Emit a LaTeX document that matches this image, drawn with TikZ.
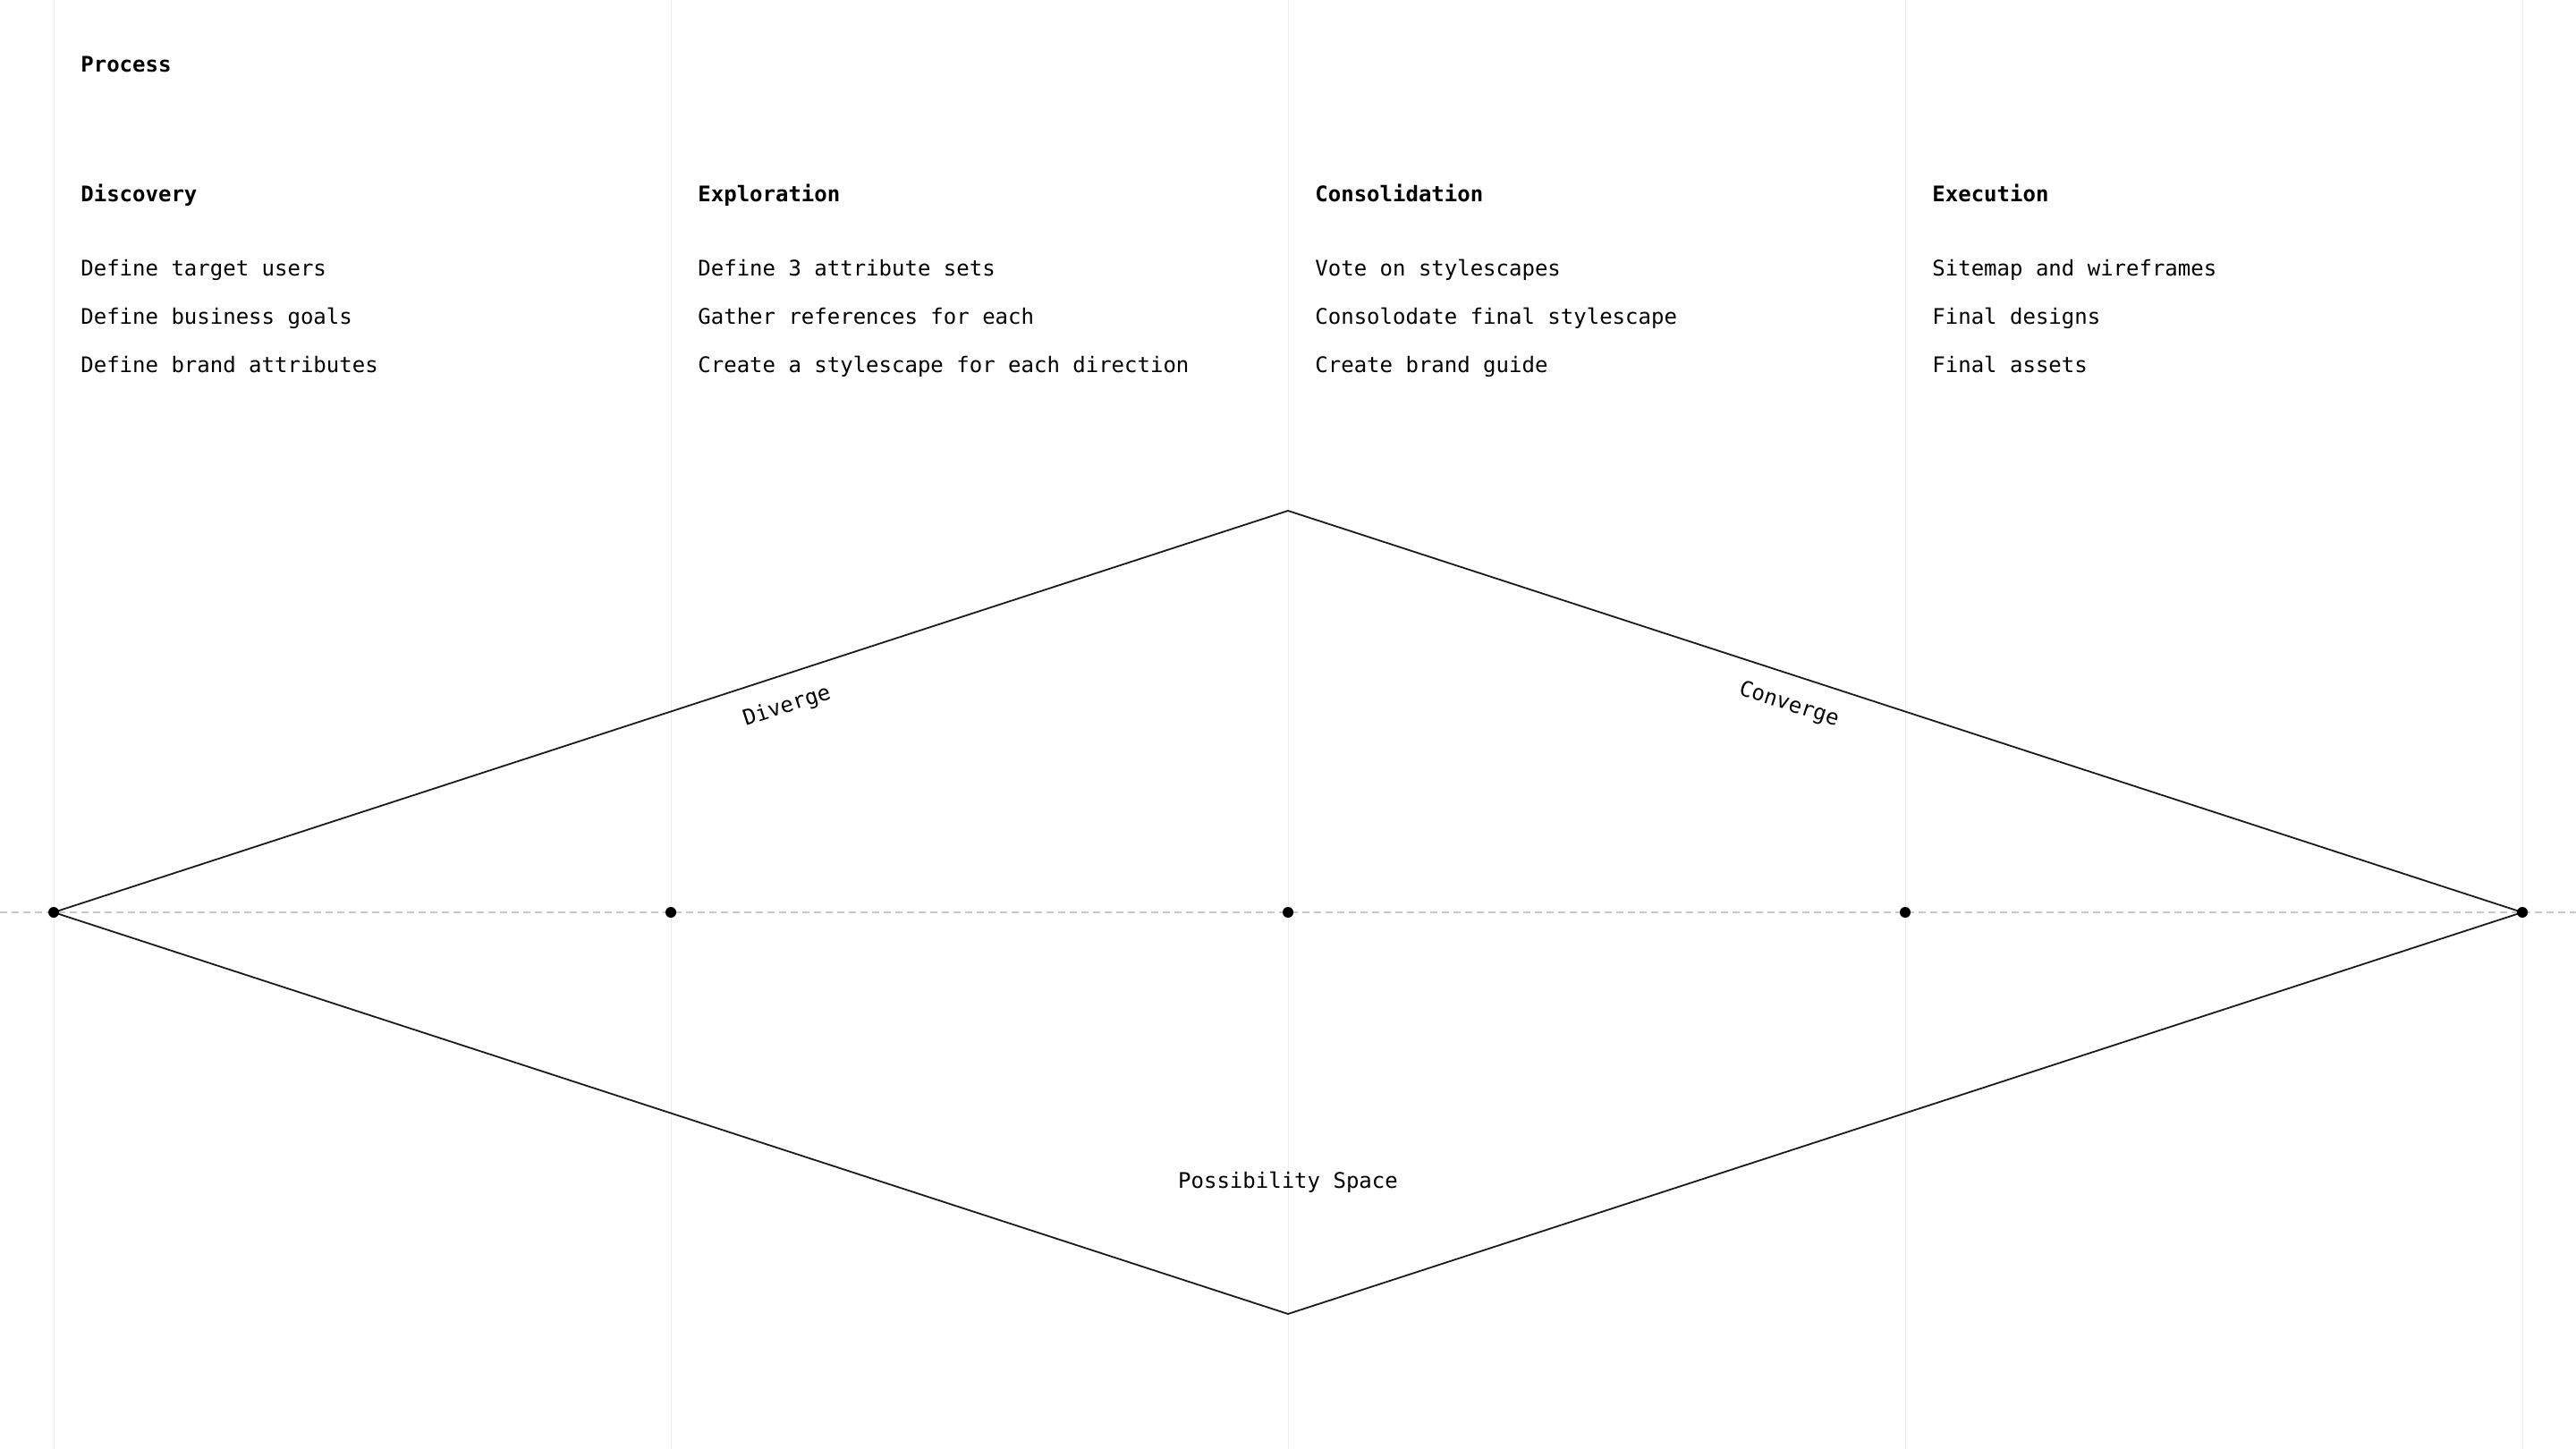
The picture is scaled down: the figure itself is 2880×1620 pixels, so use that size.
\documentclass[tikz,border=0pt]{standalone}
\usepackage{fontspec}
\setmonofont{DejaVu Sans Mono}
\definecolor{gridgray}{HTML}{EDEDED}
\definecolor{axisgray}{HTML}{C8C8C8}
\definecolor{ink}{HTML}{1A1A1A}
\begin{document}
\begin{tikzpicture}[x=0.5pt,y=-0.5pt,
	txt/.style={anchor=base west,inner sep=0pt,font=\ttfamily\fontsize{12}{14}\selectfont},
	head/.style={anchor=base west,inner sep=0pt,font=\ttfamily\bfseries\fontsize{12}{14}\selectfont},
	slope/.style={anchor=center,inner sep=0pt,font=\ttfamily\fontsize{12}{14}\selectfont},
	colline/.style={draw=gridgray,line width=0.5pt},
	axis/.style={draw=axisgray,line width=0.9pt,dash pattern=on 4pt off 2.5pt},
	edge/.style={draw=ink,line width=0.9pt,line join=miter}]
	\useasboundingbox (0,0) rectangle (2880,1620);
	%column lines
	\foreach \i in {0,...,4}
		\draw[colline] (60+690*\i,0) -- (60+690*\i,1620);
	%axis
	\draw[axis] (0,1020) -- (2880,1020);
	%diamond corners
	\coordinate (left) at (60,1020);
	\coordinate (top) at (1440,571);
	\coordinate (right) at (2820,1020);
	\coordinate (bottom) at (1440,1469);
	\coordinate (p1) at (750,1020);
	\coordinate (p2) at (1440,1020);
	\coordinate (p3) at (2130,1020);
	%diamond
	\draw[edge] (left) -- (top) -- (right) -- (bottom) -- cycle;
	%dots
	\foreach \p in {left,p1,p2,p3,right}
		\fill (\p) circle (3pt);
	%slope labels
	\node[slope,rotate=18] (diverge) at (880,790) {Diverge};
	\node[slope,rotate=-18] (converge) at (2000,788) {Converge};
	\node[slope,anchor=base] (space) at (1440,1328) {Possibility Space};
	%title
	\node[head] (process) at (90,81) {Process};
	%discovery
	\node[head] (disc) at (90,226) {Discovery};
	\node[txt] (disc1) at (90,309) {Define target users};
	\node[txt] (disc2) at (90,363) {Define business goals};
	\node[txt] (disc3) at (90,417) {Define brand attributes};
	%exploration
	\node[head] (expl) at (780,226) {Exploration};
	\node[txt] (expl1) at (780,309) {Define 3 attribute sets};
	\node[txt] (expl2) at (780,363) {Gather references for each};
	\node[txt] (expl3) at (780,417) {Create a stylescape for each direction};
	%consolidation
	\node[head] (cons) at (1470,226) {Consolidation};
	\node[txt] (cons1) at (1470,309) {Vote on stylescapes};
	\node[txt] (cons2) at (1470,363) {Consolodate final stylescape};
	\node[txt] (cons3) at (1470,417) {Create brand guide};
	%execution
	\node[head] (exec) at (2160,226) {Execution};
	\node[txt] (exec1) at (2160,309) {Sitemap and wireframes};
	\node[txt] (exec2) at (2160,363) {Final designs};
	\node[txt] (exec3) at (2160,417) {Final assets};
\end{tikzpicture}
\end{document}
